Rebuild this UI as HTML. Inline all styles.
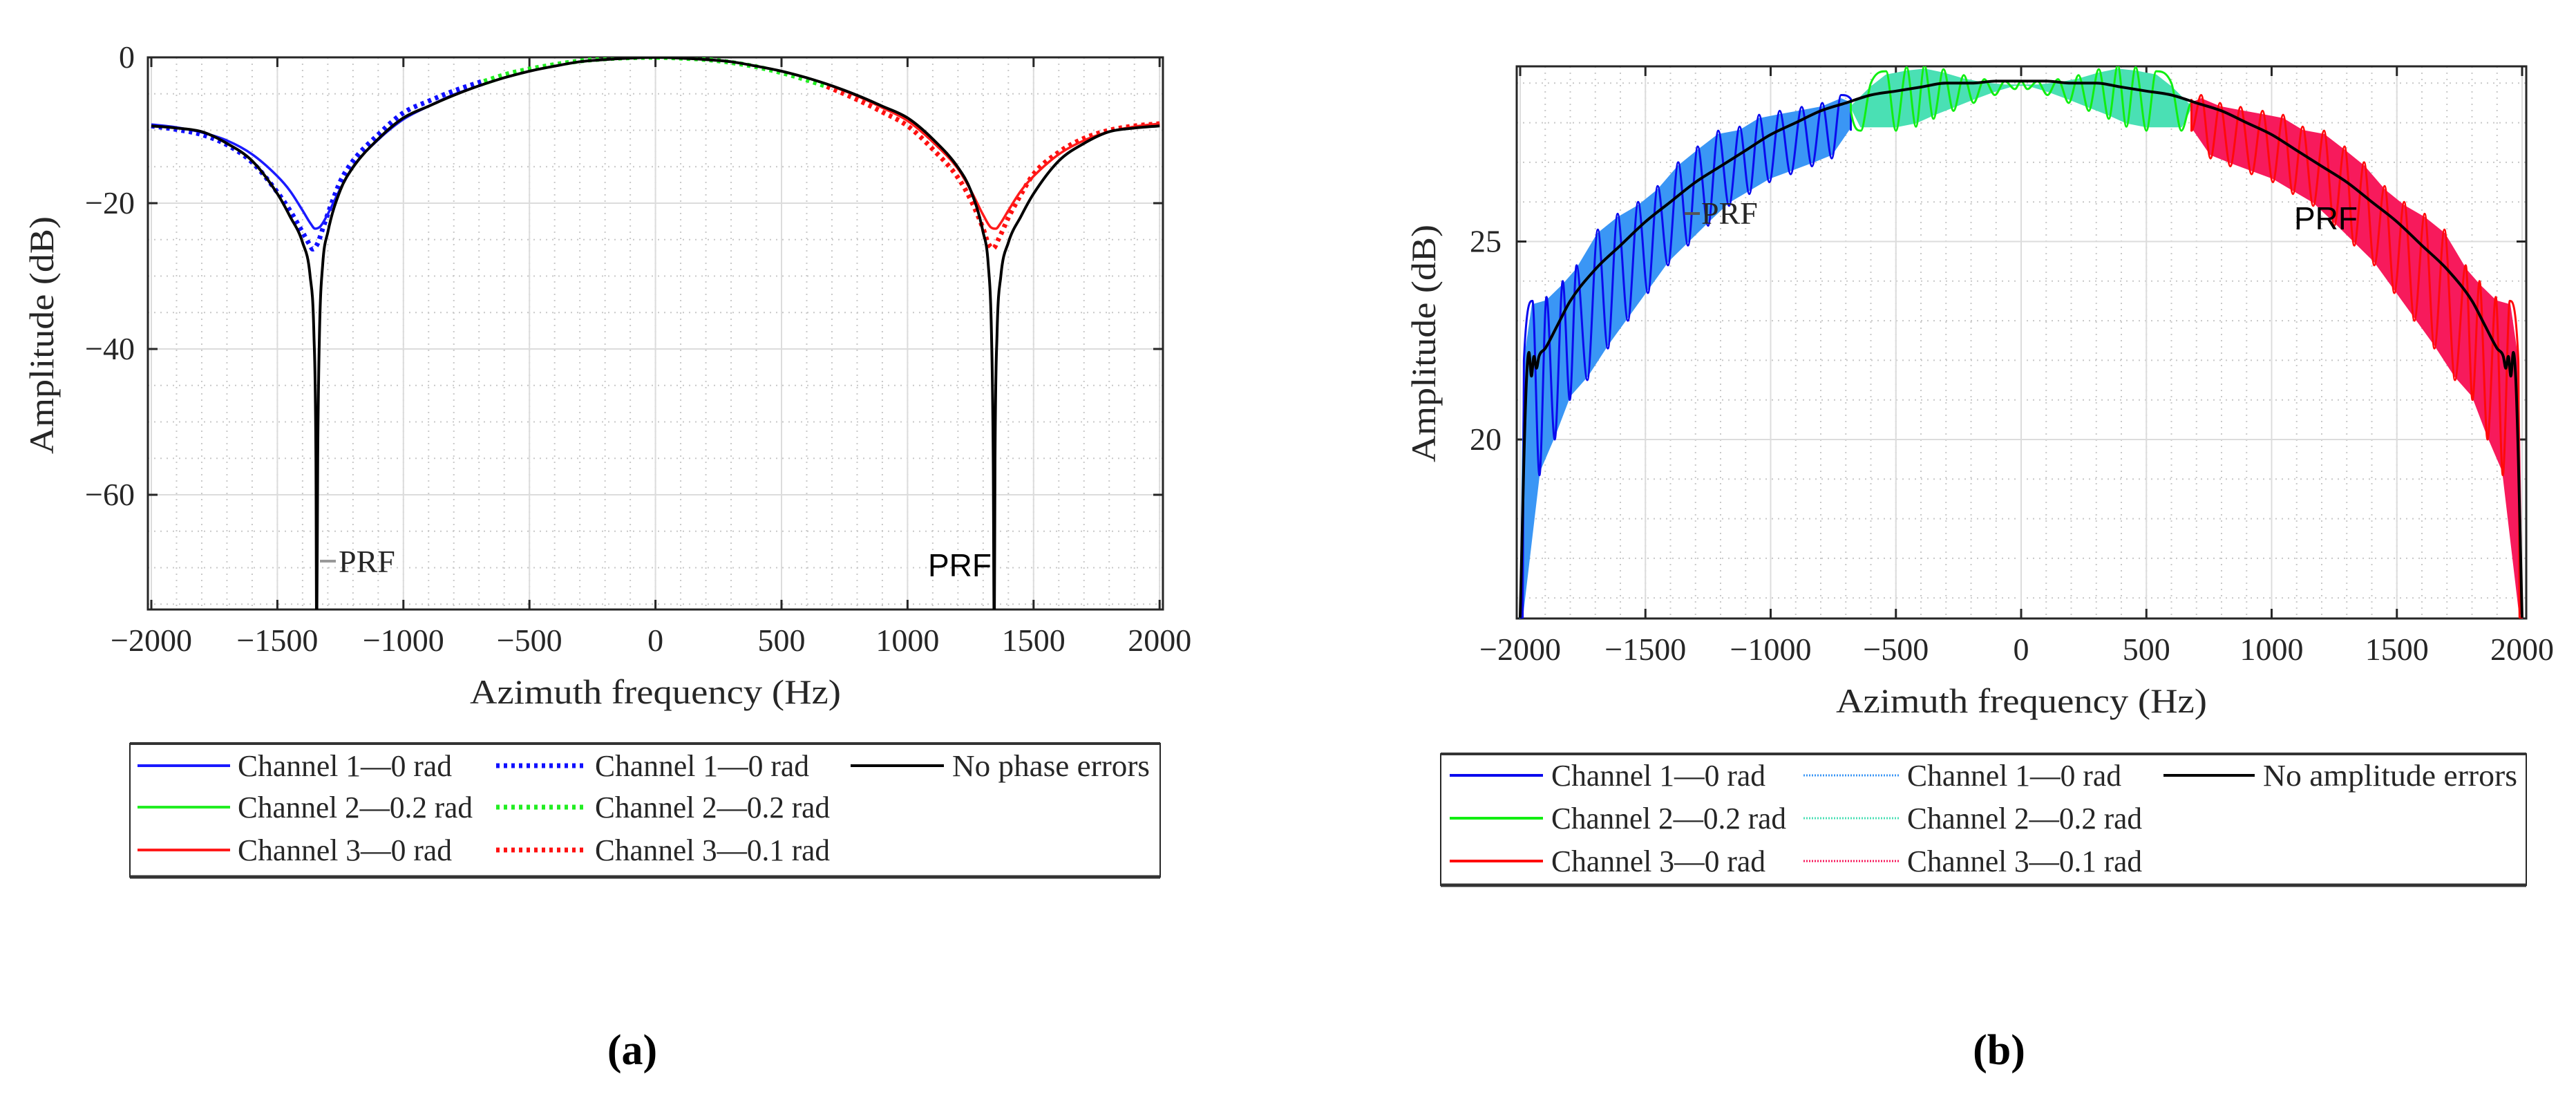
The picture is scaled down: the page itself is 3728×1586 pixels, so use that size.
<!DOCTYPE html>
<html><head><meta charset="utf-8"><style>
html,body{margin:0;padding:0;background:#fff;}
svg{display:block;}
text{font-family:"Liberation Serif",serif;fill:#262626;}
</style></head><body>
<svg id="fig" xmlns="http://www.w3.org/2000/svg" width="3728" height="1586" viewBox="0 0 3728 1586">
<defs>
<clipPath id="clipA"><rect x="214" y="83" width="1469" height="799"/></clipPath>
<clipPath id="clipB"><rect x="2195" y="96" width="1461" height="799"/></clipPath>
</defs>
<g id="panelA"></g>
<g id="panelB"></g>
<text x="915" y="1540" font-size="62" font-weight="bold" text-anchor="middle" style="fill:#000">(a)</text>
<text x="2893" y="1540" font-size="62" font-weight="bold" text-anchor="middle" style="fill:#000">(b)</text>
</svg>
<script>
// ---------- Panel A data ----------
const xTicksA = [-2000,-1500,-1000,-500,0,500,1000,1500,2000];
const xTickLabelsA = ["\u22122000","\u22121500","\u22121000","\u2212500","0","500","1000","1500","2000"];
const yTicksA = [0,-20,-40,-60];
const yTickLabelsA = ["0","\u221220","\u221240","\u221260"];
const blackFreqA = [-2000,-1900,-1800,-1700,-1600,-1500,-1450,-1400,-1370,-1355,-1347,-1344,-1340,-1333,-1320,-1300,-1250,-1200,-1100,-1000,-900,-800,-700,-600,-500,-400,-300,-200,-100,0,100,200,300,400,500,600,700,800,900,1000,1100,1200,1250,1300,1320,1333,1340,1344,1347,1355,1370,1400,1450,1500,1600,1700,1800,1900,2000];
const blackValA = [-9.4,-9.7,-10.2,-11.8,-14.2,-18.7,-21.8,-25.4,-30,-38,-55,-80,-55,-38,-28.3,-24,-18.2,-15.1,-11.2,-8.3,-6.7,-5.2,-3.9,-2.8,-1.9,-1.2,-0.6,-0.3,-0.1,0,-0.1,-0.3,-0.6,-1.2,-1.9,-2.8,-3.9,-5.2,-6.7,-8.3,-11.2,-15.1,-18.2,-24,-28.3,-38,-55,-80,-55,-38,-30,-25.4,-21.8,-18.7,-14.2,-11.8,-10.2,-9.7,-9.4];
const ch1SolidFreqA = [-2000,-1900,-1800,-1700,-1600,-1500,-1450,-1400,-1370,-1350,-1330,-1300,-1250,-1200,-1100,-1000,-900,-800,-680];
const ch1SolidValA = [-9.2,-9.6,-10.3,-11.4,-13.3,-16.3,-18.3,-21,-22.7,-23.5,-23.2,-21.5,-18,-15,-11.3,-8.5,-6.7,-5.1,-3.7];
const ch1DotFreqA = [-2000,-1900,-1800,-1700,-1600,-1500,-1450,-1400,-1370,-1360,-1340,-1320,-1300,-1250,-1200,-1100,-1000,-900,-800,-680];
const ch1DotValA = [-9.4,-9.9,-10.6,-12,-14.4,-18.5,-21,-24,-25.8,-26.3,-25.5,-23.5,-21.5,-17,-14.2,-10.6,-7.6,-6,-4.6,-3.2];
const ch2FreqA = [-680,-600,-500,-400,-300,-200,-100,0,100,200,300,400,500,600,680];
const ch2SolidValA = [-3.7,-2.8,-1.9,-1.2,-0.6,-0.3,-0.1,0,-0.1,-0.3,-0.6,-1.2,-1.9,-2.8,-3.7];
const ch2DotValA = [-3.3,-2.4,-1.6,-1.0,-0.5,-0.2,-0.05,0,-0.1,-0.3,-0.7,-1.3,-2.1,-3.1,-4.0];
const ch3SolidFreqA = [680,800,900,1000,1100,1200,1250,1300,1330,1350,1370,1400,1450,1500,1600,1700,1800,1900,2000];
const ch3SolidValA = [-3.7,-5.3,-6.9,-8.7,-11.6,-15.3,-18.2,-21.6,-23.3,-23.5,-22.7,-21,-18.3,-16.3,-13.3,-11.4,-10.2,-9.5,-9.1];
const ch3DotFreqA = [680,800,900,1000,1100,1200,1250,1300,1320,1340,1360,1400,1450,1500,1600,1700,1800,1900,2000];
const ch3DotValA = [-4.0,-5.8,-7.5,-9.4,-12.6,-16.5,-19.5,-23.5,-25.5,-26.2,-25,-22,-18.8,-16,-13,-11.1,-10,-9.4,-9.1];

// ---------- Panel B data ----------
const xTicksB = [-2000,-1500,-1000,-500,0,500,1000,1500,2000];
const xTickLabelsB = ["\u22122000","\u22121500","\u22121000","\u2212500","0","500","1000","1500","2000"];
const yTicksB = [20,25];
const yTickLabelsB = ["20","25"];
const blackFreqB = [-2000,-1995,-1985,-1975,-1965,-1955,-1945,-1935,-1925,-1900,-1850,-1800,-1700,-1600,-1500,-1400,-1300,-1200,-1100,-1000,-900,-800,-700,-600,-500,-400,-300,-200,-100,0,100,200,300,400,500,600,700,800,900,1000,1100,1200,1300,1400,1500,1600,1700,1800,1850,1900,1925,1935,1945,1955,1965,1975,1985,1995,2000];
const blackValB = [15.5,16.8,19.5,21.5,22.2,21.6,22.1,21.8,22.1,22.3,22.9,23.5,24.3,24.9,25.5,26.0,26.5,26.9,27.3,27.7,28.0,28.3,28.5,28.7,28.8,28.9,29.0,29.0,29.05,29.05,29.05,29.0,29.0,28.9,28.8,28.7,28.5,28.3,28.0,27.7,27.3,26.9,26.5,26.0,25.5,24.9,24.3,23.5,22.9,22.3,22.1,21.8,22.1,21.6,22.2,21.5,19.5,16.8,15.5];
const ch1PeakFreqB = [-2000,-1985,-1951,-1895,-1830,-1775,-1690,-1611,-1529,-1451,-1369,-1291,-1209,-1124,-1046,-964,-876,-794,-719,-680];
const ch1PeakValB = [15.5,22,23.5,23.6,24.0,24.4,25.3,25.7,26.0,26.4,27.0,27.4,27.8,27.9,28.2,28.3,28.4,28.5,28.7,28.6];
const ch1ValleyFreqB = [-2000,-1990,-1923,-1862,-1802,-1732,-1650,-1570,-1490,-1410,-1330,-1250,-1166,-1085,-1005,-920,-835,-756,-680];
const ch1ValleyValB = [15.5,15.5,19.1,20.0,21.0,21.5,22.3,23.0,23.7,24.4,24.9,25.4,25.9,26.2,26.5,26.7,26.9,27.1,27.8];
const ch2PeakFreqB = [-680,-600,-539,-457,-386,-310,-229,-147,-65,0,65,147,229,310,386,457,539,600,680];
const ch2PeakValB = [28.5,29.0,29.3,29.4,29.45,29.35,29.2,29.1,29.05,29.05,29.05,29.1,29.2,29.35,29.45,29.4,29.3,29.0,28.5];
const ch2ValleyFreqB = [-680,-640,-500,-420,-350,-270,-190,-105,-25,25,105,190,270,350,420,500,640,680];
const ch2ValleyValB = [28.3,27.8,27.8,27.9,28.1,28.3,28.5,28.7,28.85,28.85,28.7,28.5,28.3,28.1,27.9,27.8,27.8,28.3];
const ch3PeakFreqB = [680,719,794,876,964,1046,1124,1209,1291,1369,1451,1529,1611,1690,1775,1830,1895,1951,1985,2000];
const ch3PeakValB = [28.6,28.7,28.5,28.4,28.3,28.2,27.9,27.8,27.4,27.0,26.4,26.0,25.7,25.3,24.4,24.0,23.6,23.5,22,15.5];
const ch3ValleyFreqB = [680,756,835,920,1005,1085,1166,1250,1330,1410,1490,1570,1650,1732,1802,1862,1923,1990,2000];
const ch3ValleyValB = [27.8,27.1,26.9,26.7,26.5,26.2,25.9,25.4,24.9,24.4,23.7,23.0,22.3,21.5,21.0,20.0,19.1,15.5,15.5];

const NS = "http://www.w3.org/2000/svg";
function mk(tag, attrs, parent){
  const e = document.createElementNS(NS, tag);
  for (const k in attrs) e.setAttribute(k, attrs[k]);
  parent.appendChild(e);
  return e;
}
const xA = f => 219 + (f + 2000) * 0.3648;
const yA = v => 83 - v * 10.55;
const xB = f => 2200 + (f + 2000) * 0.3625;
const yB = v => 349.5 + (25 - v) * 57.3;

function smoothPath(P){
  const n = P.length;
  if (n < 3) return "M" + P.map(p=>p[0].toFixed(1)+","+p[1].toFixed(1)).join(" L");
  const m = new Array(n);
  const d = [];
  for (let i=0;i<n-1;i++) d.push((P[i+1][1]-P[i][1])/((P[i+1][0]-P[i][0])||1e-6));
  m[0]=d[0]; m[n-1]=d[n-2];
  for (let i=1;i<n-1;i++){ m[i] = (d[i-1]*d[i] <= 0) ? 0 : (d[i-1]+d[i])/2; }
  for (let i=0;i<n-1;i++){
    if (d[i]===0){ m[i]=0; m[i+1]=0; continue; }
    const a=m[i]/d[i], b=m[i+1]/d[i], s=a*a+b*b;
    if (s>9){ const t=3/Math.sqrt(s); m[i]=t*a*d[i]; m[i+1]=t*b*d[i]; }
  }
  let s = "M"+P[0][0].toFixed(1)+","+P[0][1].toFixed(1);
  for (let i=0;i<n-1;i++){
    const h=(P[i+1][0]-P[i][0])/3;
    s += " C"+(P[i][0]+h).toFixed(1)+","+(P[i][1]+m[i]*h).toFixed(1)+" "+(P[i+1][0]-h).toFixed(1)+","+(P[i+1][1]-m[i+1]*h).toFixed(1)+" "+P[i+1][0].toFixed(1)+","+P[i+1][1].toFixed(1);
  }
  return s;
}
function toPx(fs, vs, sx, sy){ return fs.map((f,i)=>[sx(f), sy(vs[i])]); }
function zig(pf, pv, vf, vv){
  const all = [];
  pf.forEach((f,i)=>all.push([f,pv[i]]));
  vf.forEach((f,i)=>all.push([f,vv[i]]));
  all.sort((a,b)=>a[0]-b[0]);
  return all;
}

function drawAxes(g, box, xs, ys, xTicks, xLabels, yTicks, yLabels, xMinor, yMinor, tickLabelY, yLabelX, titleY, yTitleX, yTitleY){
  const grid = mk('g', {}, g);
  
  
  xMinor.forEach(f=>{ mk('line',{x1:xs(f),x2:xs(f),y1:box.y0,y2:box.y1,stroke:'#c8c8c8','stroke-width':2,'stroke-dasharray':'2,7'},grid); });
  yMinor.forEach(v=>{ mk('line',{x1:box.x0,x2:box.x1,y1:ys(v),y2:ys(v),stroke:'#c8c8c8','stroke-width':2,'stroke-dasharray':'2,7'},grid); });
  xTicks.forEach(f=>{ mk('line',{x1:xs(f),x2:xs(f),y1:box.y0,y2:box.y1,stroke:'#dcdcdc','stroke-width':2},grid); });
  yTicks.forEach(v=>{ mk('line',{x1:box.x0,x2:box.x1,y1:ys(v),y2:ys(v),stroke:'#dcdcdc','stroke-width':2},grid); });
  const ax = mk('g', {}, g);
  
  
  xTicks.forEach((f,i)=>{
    mk('line',{x1:xs(f),x2:xs(f),y1:box.y1,y2:box.y1-14,stroke:'#262626','stroke-width':3},ax);
    mk('line',{x1:xs(f),x2:xs(f),y1:box.y0,y2:box.y0+14,stroke:'#262626','stroke-width':3},ax);
    const t = mk('text',{x:xs(f),y:tickLabelY,'font-size':46,'text-anchor':'middle'},ax);
    
    
    t.textContent = xLabels[i];
  });
  yTicks.forEach((v,i)=>{
    mk('line',{x1:box.x0,x2:box.x0+14,y1:ys(v),y2:ys(v),stroke:'#262626','stroke-width':3},ax);
    mk('line',{x1:box.x1,x2:box.x1-14,y1:ys(v),y2:ys(v),stroke:'#262626','stroke-width':3},ax);
    const t = mk('text',{x:yLabelX,y:ys(v)+15,'font-size':46,'text-anchor':'end'},ax);
    
    
    t.textContent = yLabels[i];
  });
  mk('rect',{x:box.x0,y:box.y0,width:box.x1-box.x0,height:box.y1-box.y0,fill:'none',stroke:'#262626','stroke-width':3},ax);
  const xt = mk('text',{x:(box.x0+box.x1)/2,y:titleY,'font-size':50,'text-anchor':'middle',textLength:537,lengthAdjust:'spacingAndGlyphs'},g);
  
  
  xt.textContent = 'Azimuth frequency (Hz)';
  const yt = mk('text',{x:0,y:0,'font-size':50,'text-anchor':'middle',textLength:344,lengthAdjust:'spacingAndGlyphs',transform:`translate(${yTitleX},${yTitleY}) rotate(-90)`},g);
  
  
  yt.textContent = 'Amplitude (dB)';
}
function range(a,b,s){ const r=[]; for(let v=a; v<=b+1e-9; v+=s) r.push(v); return r; }

function legend(g, box, rows, name){
  const lg = mk('g', {}, g);
  
  
  mk('rect',{x:box.x,y:box.y,width:box.w,height:box.h,fill:'#fff',stroke:'#262626','stroke-width':2},lg);
  mk('line',{x1:box.x,x2:box.x+box.w,y1:box.y+box.h,y2:box.y+box.h,stroke:'#333','stroke-width':5},lg);
  mk('line',{x1:box.x,x2:box.x+box.w,y1:box.y,y2:box.y,stroke:'#333','stroke-width':4},lg);
  rows.forEach(r=>{
    const e = mk('g', {}, lg);
    
    
    const l = mk('line',{x1:r.hx0,x2:r.hx1,y1:r.y,y2:r.y,stroke:r.color,'stroke-width':r.w},e);
    if (r.dash) l.setAttribute('stroke-dasharray', r.dash);
    const t = mk('text',{x:r.tx,y:r.y+15,'font-size':44,textLength:r.tl,lengthAdjust:'spacingAndGlyphs'},e);
    t.textContent = r.label;
  });
}

// ---------- Panel A ----------
(function(){
  const g = document.getElementById('panelA');
  const box = {x0:214,x1:1683,y0:83,y1:882};
  drawAxes(g, box, xA, yA, xTicksA, xTickLabelsA, yTicksA, yTickLabelsA,
    range(-2000,2000,100), range(-75,0,5), 942, 195, 1018, 77, 485);
  const c = mk('g',{'clip-path':'url(#clipA)'},g);
  
  
  function line(fs, vs, color, w, dash, name){
    const p = mk('path',{d:smoothPath(toPx(fs,vs,xA,yA)),fill:'none',stroke:color,'stroke-width':w,'stroke-linejoin':'round'},c);
    if (dash) p.setAttribute('stroke-dasharray', dash);
    
    
  }
  line(ch1DotFreqA, ch1DotValA, '#1010ff', 7, '5,6', 'series-channel1-dotted');
  line(ch2FreqA, ch2DotValA, '#22ee22', 7, '5,6', 'series-channel2-dotted');
  line(ch3DotFreqA, ch3DotValA, '#ff1010', 7, '5,6', 'series-channel3-dotted');
  line(ch1SolidFreqA, ch1SolidValA, '#1a1aff', 3.5, null, 'series-channel1-solid');
  line(ch2FreqA, ch2SolidValA, '#22ee22', 3.5, null, 'series-channel2-solid');
  line(ch3SolidFreqA, ch3SolidValA, '#ff1a1a', 3.5, null, 'series-channel3-solid');
  line(blackFreqA, blackValA, '#000', 4, null, 'series-no-phase-errors');
  mk('line',{x1:463,x2:486,y1:812,y2:812,stroke:'#999','stroke-width':4},g);
  const t1 = mk('text',{x:490,y:828,'font-size':46},g);
  
  
  t1.textContent = 'PRF';
  const t2 = mk('text',{x:1343,y:834,'font-size':46,style:'font-family:"Liberation Sans",sans-serif;fill:#000'},g);
  
  
  t2.textContent = 'PRF';
  const ys=[1108,1168,1230];
  legend(g, {x:188,y:1076,w:1491,h:193}, [
    {y:ys[0],hx0:199,hx1:333,color:'#1a1aff',w:4,tx:344,tl:310,label:'Channel 1\u20140 rad'},
    {y:ys[1],hx0:199,hx1:333,color:'#22ee22',w:4,tx:344,tl:340,label:'Channel 2\u20140.2 rad'},
    {y:ys[2],hx0:199,hx1:333,color:'#ff1a1a',w:4,tx:344,tl:310,label:'Channel 3\u20140 rad'},
    {y:ys[0],hx0:718,hx1:850,color:'#1010ff',w:7,dash:'5,6',tx:861,tl:310,label:'Channel 1\u20140 rad'},
    {y:ys[1],hx0:718,hx1:850,color:'#22ee22',w:7,dash:'5,6',tx:861,tl:340,label:'Channel 2\u20140.2 rad'},
    {y:ys[2],hx0:718,hx1:850,color:'#ff1010',w:7,dash:'5,6',tx:861,tl:340,label:'Channel 3\u20140.1 rad'},
    {y:ys[0],hx0:1231,hx1:1366,color:'#000',w:4,tx:1378,tl:286,label:'No phase errors'}
  ], 'legend-a');
})();

// ---------- Panel B ----------
(function(){
  const g = document.getElementById('panelB');
  const box = {x0:2195,x1:3656,y0:96,y1:895};
  drawAxes(g, box, xB, yB, xTicksB, xTickLabelsB, yTicksB, yTickLabelsB,
    range(-2000,2000,100), range(16,29,1), 955, 2173, 1031, 2077, 497);
  const c = mk('g',{'clip-path':'url(#clipB)'},g);
  
  
  function band(pf,pv,vf,vv,color,name){
    const up = pf.map((f,i)=>xB(f).toFixed(1)+","+yB(pv[i]-0.1).toFixed(1));
    const lo = vf.map((f,i)=>xB(f).toFixed(1)+","+yB(vv[i]+0.1).toFixed(1)).reverse();
    const p = mk('polygon',{points:up.concat(lo).join(" "),fill:color,stroke:color,'stroke-width':2},c);
    
    
  }
  function zz(pf,pv,vf,vv,color,name){
    const all = zig(pf,pv,vf,vv);
    const p = mk('path',{d:smoothPath(all.map(a=>[xB(a[0]),yB(a[1])])),fill:'none',stroke:color,'stroke-width':3,'stroke-linejoin':'round'},c);
    
    
  }
  band(ch1PeakFreqB,ch1PeakValB,ch1ValleyFreqB,ch1ValleyValB,'#3a96f5','series-channel1-dotted');
  band(ch2PeakFreqB,ch2PeakValB,ch2ValleyFreqB,ch2ValleyValB,'#4ae0b4','series-channel2-dotted');
  band(ch3PeakFreqB,ch3PeakValB,ch3ValleyFreqB,ch3ValleyValB,'#f71a5c','series-channel3-dotted');
  zz(ch1PeakFreqB,ch1PeakValB,ch1ValleyFreqB,ch1ValleyValB,'#0a0aee','series-channel1-solid');
  zz(ch2PeakFreqB,ch2PeakValB,ch2ValleyFreqB,ch2ValleyValB,'#11ee11','series-channel2-solid');
  zz(ch3PeakFreqB,ch3PeakValB,ch3ValleyFreqB,ch3ValleyValB,'#ff0a0a','series-channel3-solid');
  const p = mk('path',{d:smoothPath(toPx(blackFreqB,blackValB,xB,yB)),fill:'none',stroke:'#000','stroke-width':4,'stroke-linejoin':'round'},c);
  
  
  mk('line',{x1:2438,x2:2460,y1:309,y2:309,stroke:'#555','stroke-width':4},g);
  const t1 = mk('text',{x:2462,y:324,'font-size':46},g);
  
  
  t1.textContent = 'PRF';
  const t2 = mk('text',{x:3320,y:332,'font-size':46,style:'font-family:"Liberation Sans",sans-serif;fill:#000'},g);
  
  
  t2.textContent = 'PRF';
  const ys=[1122,1184,1246];
  legend(g, {x:2085,y:1091,w:1571,h:190}, [
    {y:ys[0],hx0:2098,hx1:2233,color:'#0a0aee',w:4,tx:2245,tl:310,label:'Channel 1\u20140 rad'},
    {y:ys[1],hx0:2098,hx1:2233,color:'#11ee11',w:4,tx:2245,tl:340,label:'Channel 2\u20140.2 rad'},
    {y:ys[2],hx0:2098,hx1:2233,color:'#ff0a0a',w:4,tx:2245,tl:310,label:'Channel 3\u20140 rad'},
    {y:ys[0],hx0:2610,hx1:2748,color:'#3a96f5',w:3,dash:'2,2',tx:2760,tl:310,label:'Channel 1\u20140 rad'},
    {y:ys[1],hx0:2610,hx1:2748,color:'#4ae0b4',w:3,dash:'2,2',tx:2760,tl:340,label:'Channel 2\u20140.2 rad'},
    {y:ys[2],hx0:2610,hx1:2748,color:'#f71a5c',w:3,dash:'2,2',tx:2760,tl:340,label:'Channel 3\u20140.1 rad'},
    {y:ys[0],hx0:3131,hx1:3263,color:'#000',w:4,tx:3275,tl:368,label:'No amplitude errors'}
  ], 'legend-b');
})();
</script>
</body></html>
